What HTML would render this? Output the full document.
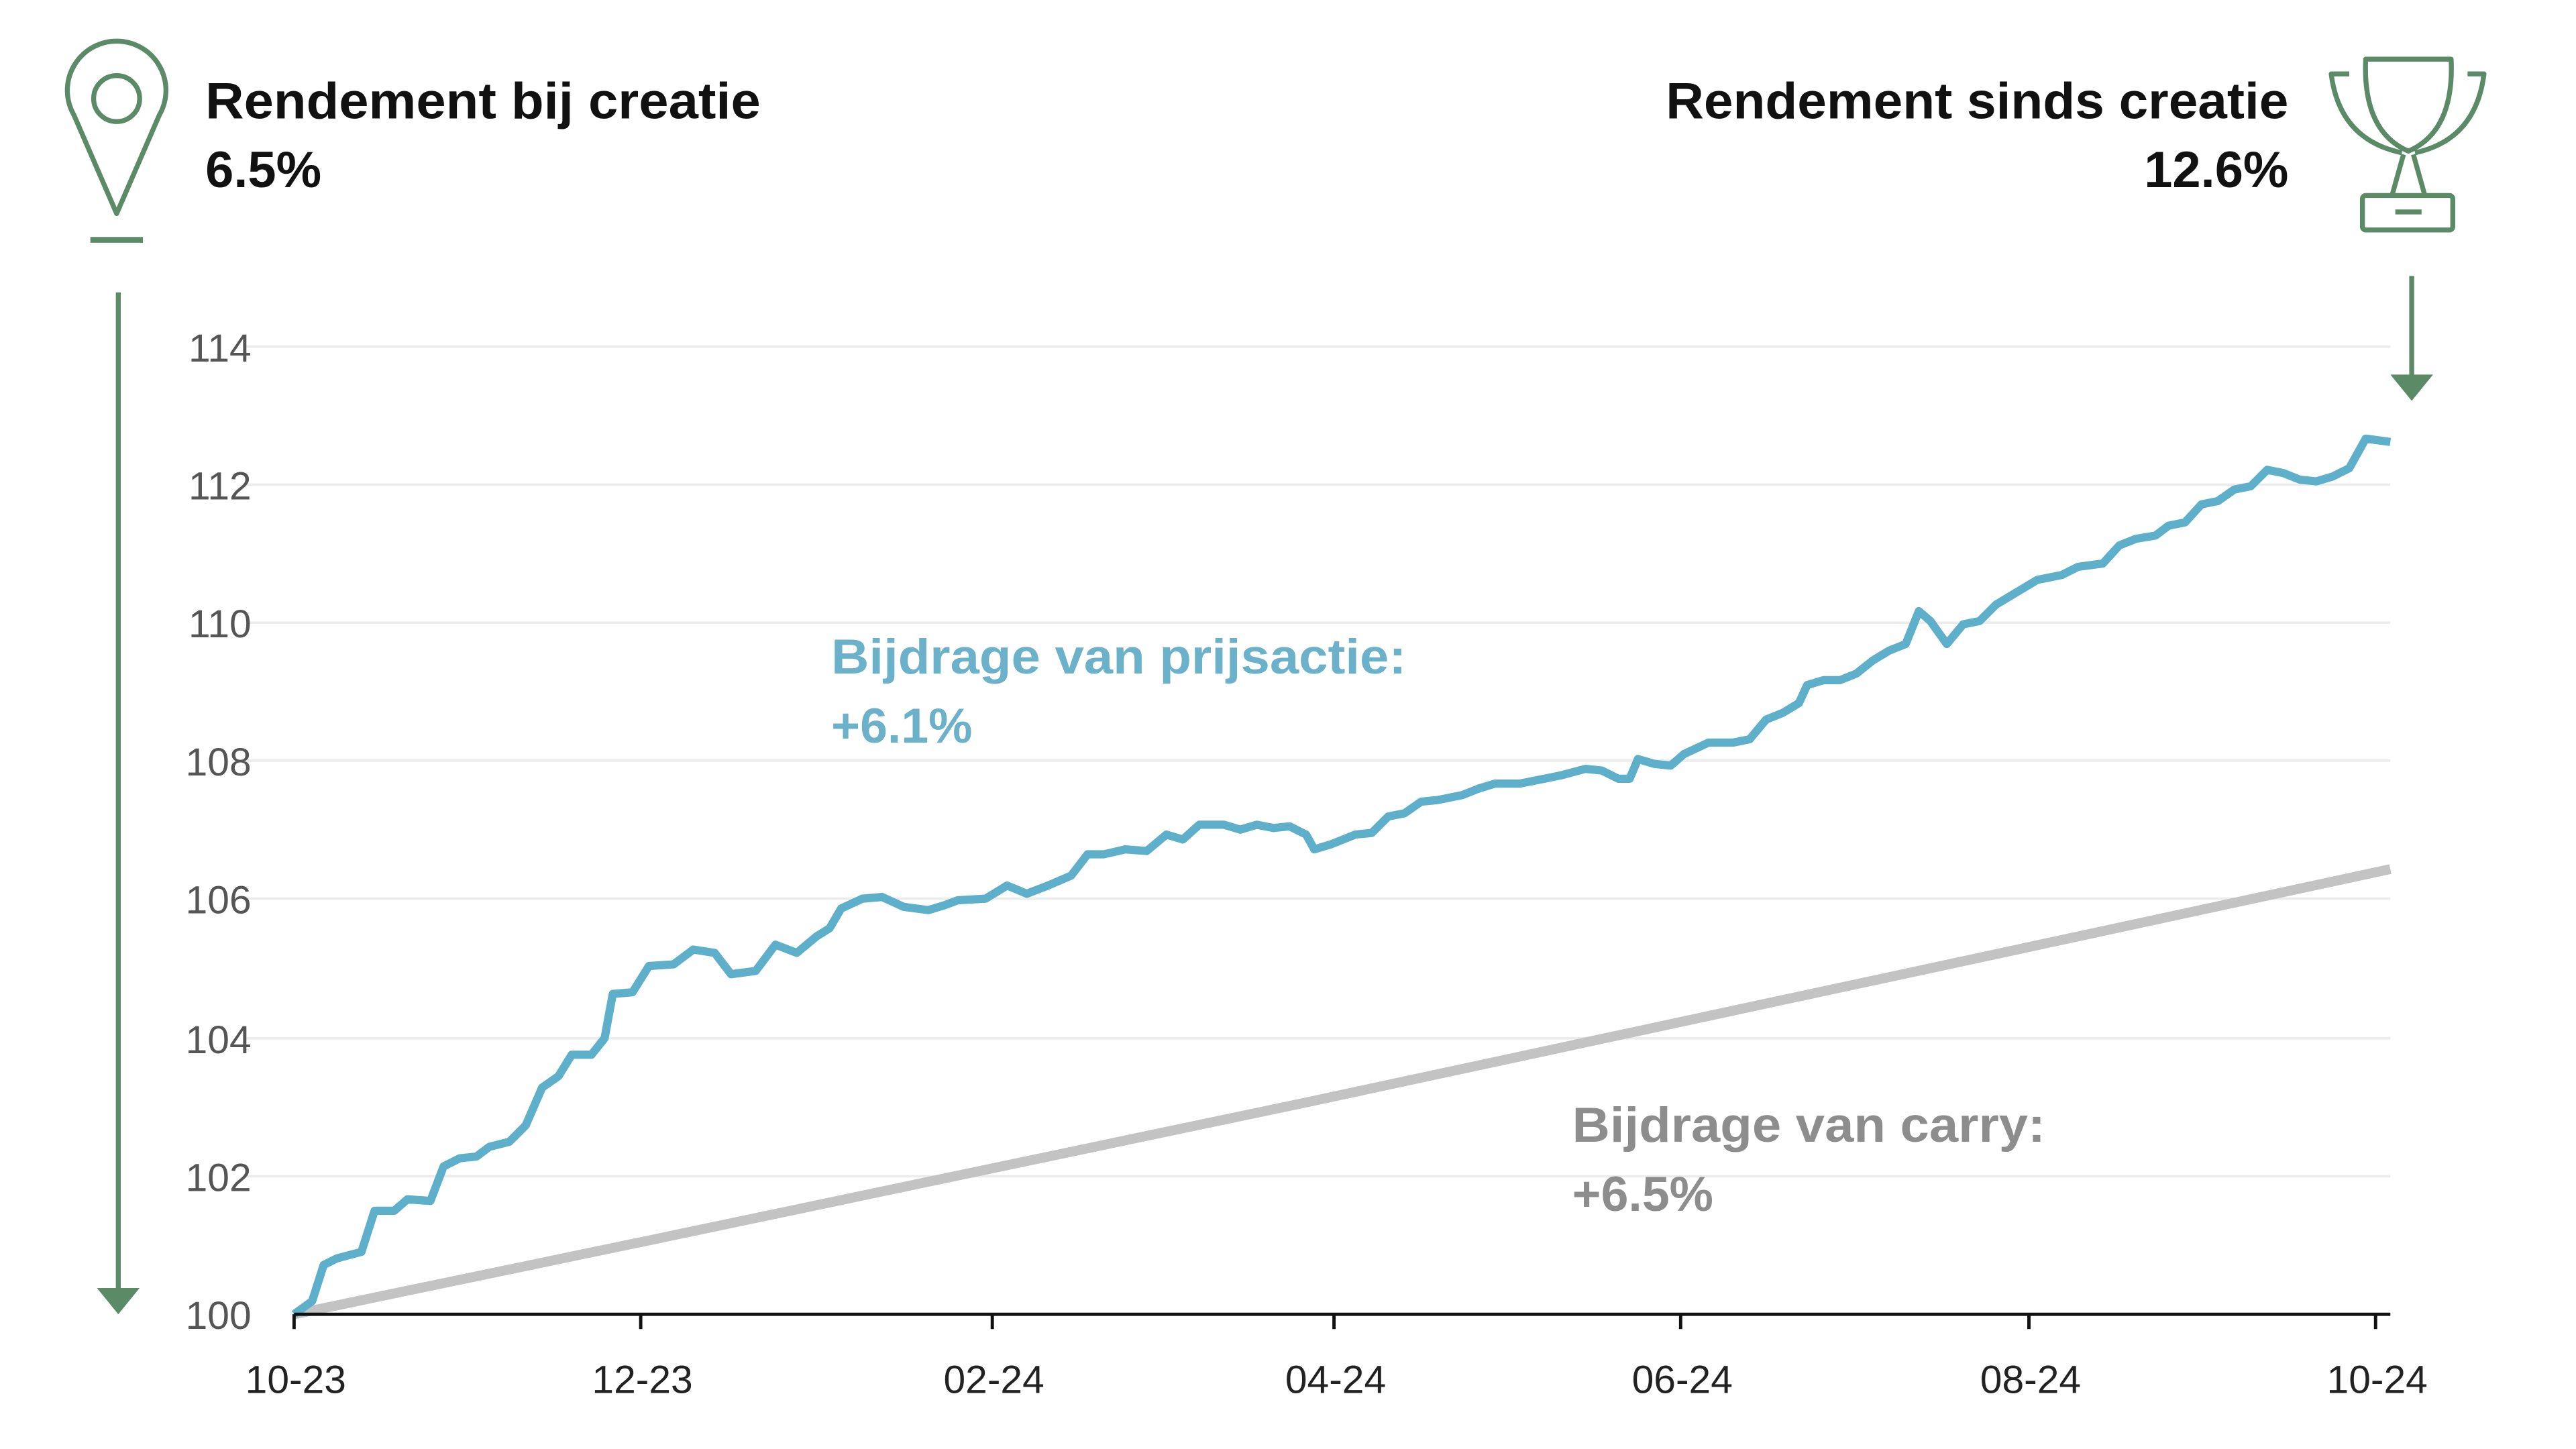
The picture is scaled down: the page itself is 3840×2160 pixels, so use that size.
<!DOCTYPE html>
<html><head><meta charset="utf-8"><style>
html,body{margin:0;padding:0;background:#fff;}
svg{display:block;}
text{font-family:"Liberation Sans",sans-serif;}
</style></head><body>
<svg width="3840" height="2160" viewBox="0 0 1568 882" preserveAspectRatio="none" xmlns="http://www.w3.org/2000/svg">
<rect width="1568" height="882" fill="#fff"/>
<!-- grid -->
<g stroke="#ececec" stroke-width="1.5">
<line x1="150" y1="211" x2="1455" y2="211"/>
<line x1="150" y1="295" x2="1455" y2="295"/>
<line x1="150" y1="379" x2="1455" y2="379"/>
<line x1="150" y1="463" x2="1455" y2="463"/>
<line x1="150" y1="547" x2="1455" y2="547"/>
<line x1="150" y1="632" x2="1455" y2="632"/>
<line x1="150" y1="716" x2="1455" y2="716"/>
</g>
<g font-size="24" fill="#555" text-anchor="end">
<text x="153" y="220">114</text>
<text x="153" y="304">112</text>
<text x="153" y="388">110</text>
<text x="153" y="472">108</text>
<text x="153" y="556">106</text>
<text x="153" y="641">104</text>
<text x="153" y="725">102</text>
<text x="153" y="809">100</text>
</g>
<!-- carry -->
<polyline fill="none" stroke="#c3c3c3" stroke-width="6" stroke-linejoin="round" points="179,800 400,754 600,712 800,670 1000,627 1200,584 1455,529"/>
<!-- price -->
<polyline fill="none" stroke="#5eafc9" stroke-width="5" stroke-linejoin="round" points="179,800 190,792 197,770 205,766 220,762 228,737 240,737 248,730 262,731 270,710 280,705 290,704 298,698 310,695 320,685 330,662 340,655 348,642 360,642 368,632 373,605 385,604 395,588 410,587 422,578 435,580 445,593 460,591 472,575 485,580 497,570 505,565 512,553 525,547 537,546 550,552 565,554 575,551 583,548 600,547 613,539 625,544 638,539 652,533 662,520 672,520 685,517 698,518 710,508 720,511 730,502 745,502 755,505 765,502 775,504 785,503 795,508 800,517 810,514 825,508 835,507 845,497 855,495 865,488 875,487 890,484 900,480 910,477 925,477 940,474 950,472 965,468 975,469 985,474 992,474 997,462 1007,465 1017,466 1025,459 1040,452 1055,452 1065,450 1075,438 1085,434 1095,428 1100,417 1110,414 1120,414 1130,410 1140,402 1150,396 1160,392 1168,372 1175,378 1185,392 1195,380 1205,378 1215,368 1225,362 1240,353 1255,350 1265,345 1280,343 1290,332 1300,328 1312,326 1320,320 1330,318 1340,307 1350,305 1360,298 1370,296 1380,286 1390,288 1400,292 1410,293 1420,290 1430,285 1440,267 1455,269"/>
<!-- x axis -->
<g stroke="#111" stroke-width="2">
<line x1="179" y1="800" x2="1455" y2="800"/>
<line x1="179" y1="800" x2="179" y2="809"/>
<line x1="390" y1="800" x2="390" y2="809"/>
<line x1="604" y1="800" x2="604" y2="809"/>
<line x1="812" y1="800" x2="812" y2="809"/>
<line x1="1023" y1="800" x2="1023" y2="809"/>
<line x1="1235" y1="800" x2="1235" y2="809"/>
<line x1="1446" y1="800" x2="1446" y2="809"/>
</g>
<g font-size="24" fill="#222" text-anchor="middle">
<text x="180" y="848">10-23</text>
<text x="391" y="848">12-23</text>
<text x="605" y="848">02-24</text>
<text x="813" y="848">04-24</text>
<text x="1024" y="848">06-24</text>
<text x="1236" y="848">08-24</text>
<text x="1447" y="848">10-24</text>
</g>
<!-- annotations -->
<g font-size="30" font-weight="bold" fill="#6ab1c9">
<text x="506" y="410" textLength="350" lengthAdjust="spacingAndGlyphs">Bijdrage van prijsactie:</text>
<text x="506" y="452">+6.1%</text>
</g>
<g font-size="30" font-weight="bold" fill="#8d8d8d">
<text x="957" y="695" textLength="288" lengthAdjust="spacingAndGlyphs">Bijdrage van carry:</text>
<text x="957" y="737">+6.5%</text>
</g>
<!-- headers -->
<g font-size="31" font-weight="bold" fill="#111">
<text x="125" y="72" textLength="338" lengthAdjust="spacingAndGlyphs">Rendement bij creatie</text>
<text x="125" y="114">6.5%</text>
<text x="1393" y="72" text-anchor="end" textLength="379" lengthAdjust="spacingAndGlyphs">Rendement sinds creatie</text>
<text x="1393" y="114" text-anchor="end">12.6%</text>
</g>
<!-- pin -->
<g fill="none" stroke="#5b8a66" stroke-width="3">
<path d="M71,130 L45,70 A30,30 0 1 1 97,70 Z" stroke-linejoin="round"/>
<circle cx="71" cy="60" r="14"/>
</g>
<line x1="55" y1="146" x2="87" y2="146" stroke="#5b8a66" stroke-width="3.5"/>
<line x1="72" y1="178" x2="72" y2="786" stroke="#5b8a66" stroke-width="3"/>
<polygon points="59,784 85,784 72,800" fill="#5b8a66"/>
<!-- trophy -->
<g fill="none" stroke="#5b8a66" stroke-width="3" stroke-linejoin="round">
<path d="M1440,36 L1492,36 Q1494,80 1466,92 Q1438,80 1440,36 Z"/>
<path d="M1430,45 L1419,45 Q1424,85 1462,93"/>
<path d="M1502,45 L1512,45 Q1507,85 1470,93"/>
<path d="M1463,94 L1456,119 M1469,94 L1476,119"/>
<rect x="1438" y="119" width="55" height="21" rx="2"/>
</g>
<line x1="1458" y1="129" x2="1474" y2="129" stroke="#5b8a66" stroke-width="3"/>
<line x1="1468" y1="168" x2="1468" y2="230" stroke="#5b8a66" stroke-width="3"/>
<polygon points="1455,228 1481,228 1468,244" fill="#5b8a66"/>
</svg>
</body></html>
